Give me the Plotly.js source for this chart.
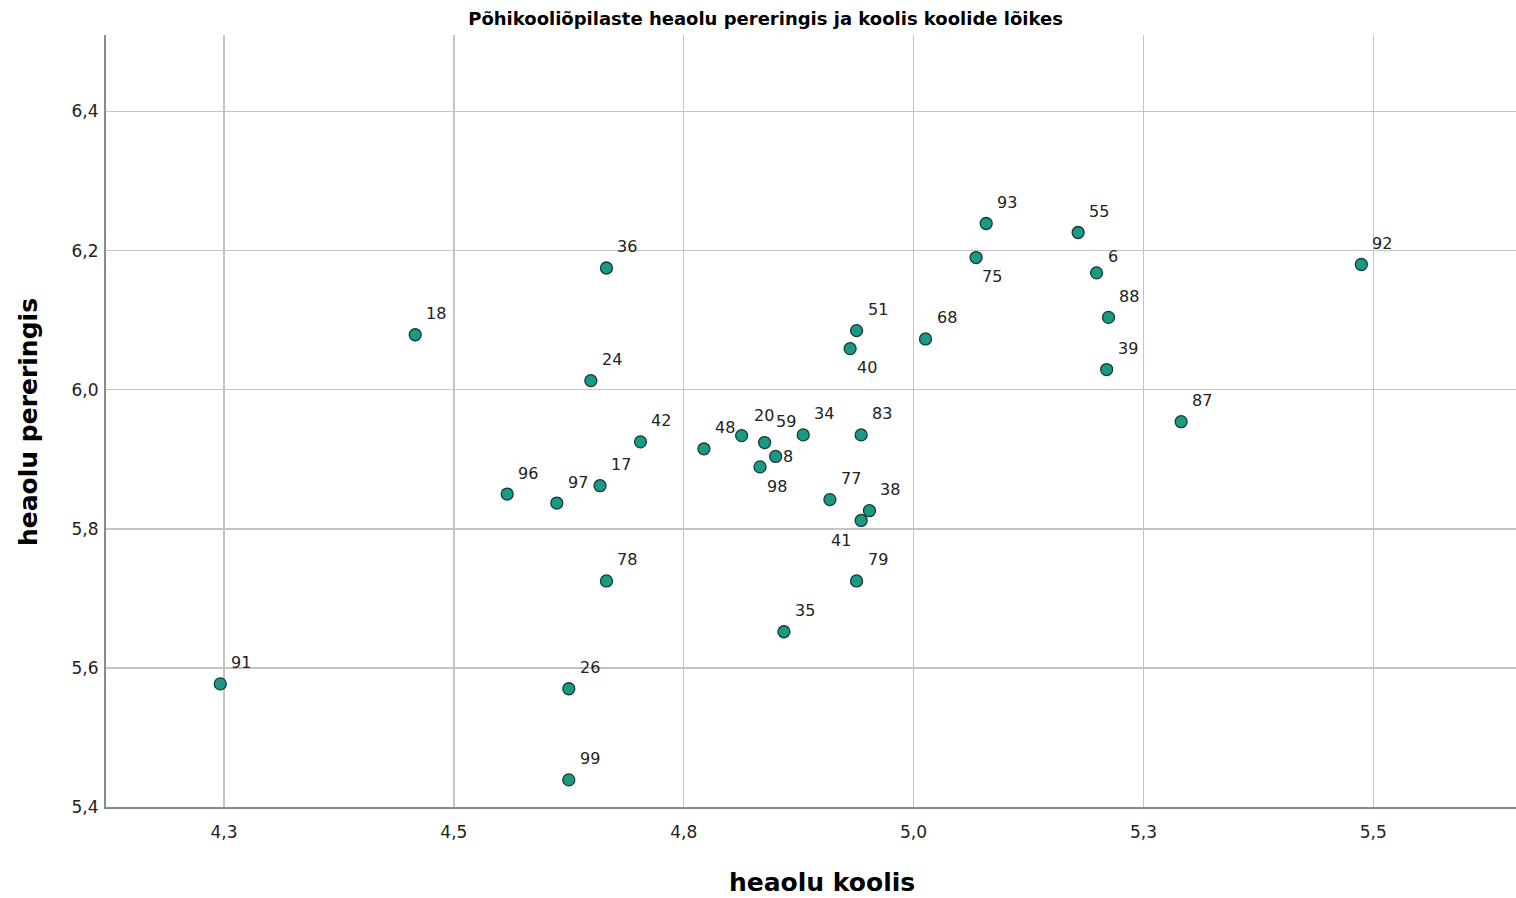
<!DOCTYPE html>
<html>
<head>
<meta charset="utf-8">
<script src="https://cdn.plot.ly/plotly-3.0.1.min.js"></script>
<style>html,body{margin:0;padding:0;background:#fff;}#chart{width:1516px;height:898px;}</style>
</head>
<body>
<div id="chart"></div>
<script>
// School IDs
const schools = ["91","18","36","24","42","96","97","17","78","26","99","48","20","59","8","98","34","83","77","38","41","79","35","51","40","68","75","93","55","6","88","39","87","92"];
// well-being at school (x)
const heaoluKoolis = [4.246,4.458,4.666,4.649,4.703,4.558,4.612,4.659,4.666,4.625,4.625,4.772,4.813,4.838,4.850,4.833,4.880,4.943,4.909,4.952,4.943,4.938,4.859,4.938,4.931,5.013,5.068,5.079,5.179,5.199,5.212,5.210,5.291,5.487];
// well-being in family (y)
const heaoluPereringis = [5.577,6.079,6.175,6.013,5.925,5.850,5.837,5.862,5.725,5.570,5.439,5.915,5.934,5.924,5.904,5.889,5.935,5.935,5.842,5.826,5.812,5.725,5.652,6.085,6.059,6.073,6.190,6.239,6.226,6.168,6.104,6.029,5.954,6.180];

const xTitle = 'heaolu koolis';
const yTitle = 'heaolu pereringis';
const chartTitle = 'Põhikooliõpilaste heaolu pereringis ja koolis koolide lõikes';

// label placement (pixel offsets) - styling only
const defaultOffset = [21, 21];
const labelOffsets = {"8":[12,0],"98":[17,-20],"41":[-20,-20],"40":[17,-19],"75":[16,-19],"6":[16,16],"20":[22,20]};

const FONT = 'DejaVu Sans, Verdana, sans-serif';

const annotations = schools.map((s, i) => {
  const o = labelOffsets[s] || defaultOffset;
  return {
    x: heaoluKoolis[i], y: heaoluPereringis[i], xref: 'x', yref: 'y',
    text: s, showarrow: false, xshift: o[0], yshift: o[1],
    font: {family: FONT, size: 16, color: '#222'}
  };
});
annotations.push({
  text: xTitle, xref: 'paper', yref: 'paper', x: 0.5078, y: -0.0984,
  xanchor: 'center', yanchor: 'middle', showarrow: false,
  font: {family: FONT, size: 25, color: '#000', weight: 'bold'}
});
annotations.push({
  text: yTitle, xref: 'paper', yref: 'paper', x: -0.0553, y: 0.4987,
  xanchor: 'center', yanchor: 'middle', showarrow: false, textangle: -90,
  font: {family: FONT, size: 25, color: '#000', weight: 'bold'}
});

const trace = {
  type: 'scatter', mode: 'markers',
  x: heaoluKoolis, y: heaoluPereringis, text: schools,
  marker: {size: 12, color: '#1a9a84', line: {color: '#173a34', width: 1.3}},
  hoverinfo: 'text+x+y'
};

const layout = {
  width: 1516, height: 898,
  margin: {l: 106, r: 0, t: 35, b: 91},
  paper_bgcolor: '#fff', plot_bgcolor: '#fff',
  separators: ', ',
  showlegend: false,
  title: {text: chartTitle,
    font: {family: FONT, size: 18, color: '#000', weight: 'bold'},
    x: 0.505, xanchor: 'center', y: 0.979, yanchor: 'middle', yref: 'container'},
  xaxis: {
    range: [4.1217, 5.6552], tick0: 4.25, dtick: 0.25, tickformat: '.1f',
    showgrid: true, gridcolor: '#c4c4c4', gridwidth: 1.5,
    showline: true, linecolor: '#8a8a8a', linewidth: 2, mirror: false,
    zeroline: false, ticks: '', ticklabelstandoff: 9,
    tickfont: {family: FONT, size: 17, color: '#222'}
  },
  yaxis: {
    range: [5.4, 6.51], tick0: 5.4, dtick: 0.2, tickformat: '.1f',
    showgrid: true, gridcolor: '#c4c4c4', gridwidth: 1.5,
    showline: true, linecolor: '#8a8a8a', linewidth: 2,
    zeroline: false, ticks: '', ticklabelstandoff: 2,
    tickfont: {family: FONT, size: 17, color: '#222'}
  },
  annotations: annotations
};

Plotly.newPlot('chart', [trace], layout, {displayModeBar: false, staticPlot: true});
</script>
</body>
</html>
